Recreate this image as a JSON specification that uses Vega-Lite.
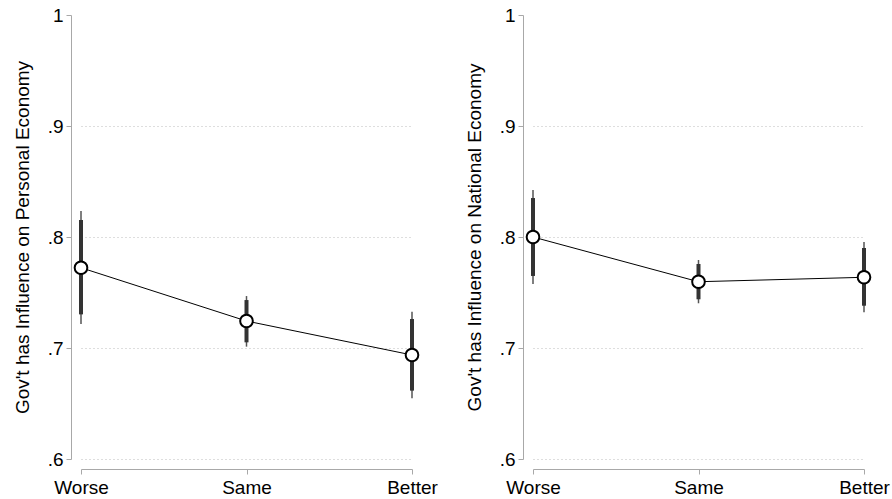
{
  "$schema": "https://vega.github.io/schema/vega-lite/v6.json",
  "padding": {"left": 13, "top": 6, "right": 5, "bottom": 2},
  "datasets": {
    "est": [
      {"panel": "personal", "cat": "Worse", "est": 0.7723, "lo90": 0.7303, "hi90": 0.8153, "lo95": 0.7216, "hi95": 0.8234},
      {"panel": "personal", "cat": "Same", "est": 0.7243, "lo90": 0.7051, "hi90": 0.7432, "lo95": 0.7012, "hi95": 0.7468},
      {"panel": "personal", "cat": "Better", "est": 0.6937, "lo90": 0.6616, "hi90": 0.7261, "lo95": 0.6547, "hi95": 0.7327},
      {"panel": "national", "cat": "Worse", "est": 0.8000, "lo90": 0.7649, "hi90": 0.8351, "lo95": 0.7577, "hi95": 0.8423},
      {"panel": "national", "cat": "Same", "est": 0.7597, "lo90": 0.7439, "hi90": 0.7757, "lo95": 0.7403, "hi95": 0.7793},
      {"panel": "national", "cat": "Better", "est": 0.7637, "lo90": 0.7381, "hi90": 0.7901, "lo95": 0.7321, "hi95": 0.7955}
    ]
  },
  "data": {"name": "est"},
  "bounds": "flush",
  "spacing": 121,
  "hconcat": [
    {
      "width": 331,
      "height": 444,
      "transform": [{"filter": "datum.panel == 'personal'"}],
      "encoding": {
        "x": {"field": "cat", "type": "ordinal", "sort": ["Worse", "Same", "Better"], "scale": {"type": "point", "padding": 0}, "axis": {"title": null, "labelAngle": 0, "offset": 10, "labelPadding": 4}}
      },
      "layer": [
        {"mark": {"type": "rule", "strokeWidth": 1.5, "color": "#555555"},
         "encoding": {"y": {"field": "lo95", "type": "quantitative", "scale": {"domain": [0.6, 1], "nice": false, "zero": false}, "axis": {"title": "Gov't has Influence on Personal Economy", "values": [0.6, 0.7, 0.8, 0.9, 1], "labelExpr": "datum.value >= 1 ? '1' : replace(format(datum.value, '.1f'), '0.', '.')", "offset": 10, "grid": true, "gridOpacity": {"condition": {"test": "datum.value >= 1", "value": 0}, "value": 1}, "titlePadding": 15}}, "y2": {"field": "hi95"}}},
        {"mark": {"type": "rule", "strokeWidth": 4, "color": "#333333"},
         "encoding": {"y": {"field": "lo90", "type": "quantitative", "axis": {"title": "Gov't has Influence on Personal Economy", "values": [0.6, 0.7, 0.8, 0.9, 1], "labelExpr": "datum.value >= 1 ? '1' : replace(format(datum.value, '.1f'), '0.', '.')", "offset": 10, "grid": true, "gridOpacity": {"condition": {"test": "datum.value >= 1", "value": 0}, "value": 1}, "titlePadding": 15}}, "y2": {"field": "hi90"}}},
        {"mark": {"type": "line", "color": "black", "strokeWidth": 1},
         "encoding": {"y": {"field": "est", "type": "quantitative", "axis": {"title": "Gov't has Influence on Personal Economy", "values": [0.6, 0.7, 0.8, 0.9, 1], "labelExpr": "datum.value >= 1 ? '1' : replace(format(datum.value, '.1f'), '0.', '.')", "offset": 10, "grid": true, "gridOpacity": {"condition": {"test": "datum.value >= 1", "value": 0}, "value": 1}, "titlePadding": 15}}}},
        {"mark": {"type": "point", "filled": true, "fill": "white", "stroke": "black", "strokeWidth": 2, "size": 160, "opacity": 1},
         "encoding": {"y": {"field": "est", "type": "quantitative", "axis": {"title": "Gov't has Influence on Personal Economy", "values": [0.6, 0.7, 0.8, 0.9, 1], "labelExpr": "datum.value >= 1 ? '1' : replace(format(datum.value, '.1f'), '0.', '.')", "offset": 10, "grid": true, "gridOpacity": {"condition": {"test": "datum.value >= 1", "value": 0}, "value": 1}, "titlePadding": 15}}}}
      ]
    },
    {
      "width": 331,
      "height": 444,
      "transform": [{"filter": "datum.panel == 'national'"}],
      "encoding": {
        "x": {"field": "cat", "type": "ordinal", "sort": ["Worse", "Same", "Better"], "scale": {"type": "point", "padding": 0}, "axis": {"title": null, "labelAngle": 0, "offset": 10, "labelPadding": 4}}
      },
      "layer": [
        {"mark": {"type": "rule", "strokeWidth": 1.5, "color": "#555555"},
         "encoding": {"y": {"field": "lo95", "type": "quantitative", "scale": {"domain": [0.6, 1], "nice": false, "zero": false}, "axis": {"title": "Gov't has Influence on National Economy", "values": [0.6, 0.7, 0.8, 0.9, 1], "labelExpr": "datum.value >= 1 ? '1' : replace(format(datum.value, '.1f'), '0.', '.')", "offset": 10, "grid": true, "gridOpacity": {"condition": {"test": "datum.value >= 1", "value": 0}, "value": 1}, "titlePadding": 15}}, "y2": {"field": "hi95"}}},
        {"mark": {"type": "rule", "strokeWidth": 4, "color": "#333333"},
         "encoding": {"y": {"field": "lo90", "type": "quantitative", "axis": {"title": "Gov't has Influence on National Economy", "values": [0.6, 0.7, 0.8, 0.9, 1], "labelExpr": "datum.value >= 1 ? '1' : replace(format(datum.value, '.1f'), '0.', '.')", "offset": 10, "grid": true, "gridOpacity": {"condition": {"test": "datum.value >= 1", "value": 0}, "value": 1}, "titlePadding": 15}}, "y2": {"field": "hi90"}}},
        {"mark": {"type": "line", "color": "black", "strokeWidth": 1},
         "encoding": {"y": {"field": "est", "type": "quantitative", "axis": {"title": "Gov't has Influence on National Economy", "values": [0.6, 0.7, 0.8, 0.9, 1], "labelExpr": "datum.value >= 1 ? '1' : replace(format(datum.value, '.1f'), '0.', '.')", "offset": 10, "grid": true, "gridOpacity": {"condition": {"test": "datum.value >= 1", "value": 0}, "value": 1}, "titlePadding": 15}}}},
        {"mark": {"type": "point", "filled": true, "fill": "white", "stroke": "black", "strokeWidth": 2, "size": 160, "opacity": 1},
         "encoding": {"y": {"field": "est", "type": "quantitative", "axis": {"title": "Gov't has Influence on National Economy", "values": [0.6, 0.7, 0.8, 0.9, 1], "labelExpr": "datum.value >= 1 ? '1' : replace(format(datum.value, '.1f'), '0.', '.')", "offset": 10, "grid": true, "gridOpacity": {"condition": {"test": "datum.value >= 1", "value": 0}, "value": 1}, "titlePadding": 15}}}}
      ]
    }
  ],
  "config": {
    "view": {"stroke": null},
    "font": "Liberation Sans",
    "axis": {
      "labelFont": "Liberation Sans",
      "titleFont": "Liberation Sans",
      "labelFontSize": 19,
      "titleFontSize": 19,
      "titleFontWeight": "normal",
      "labelColor": "black",
      "titleColor": "black",
      "domainColor": "#a8a8a8",
      "tickColor": "#a8a8a8",
      "tickSize": 5,
      "labelPadding": 3,
      "gridColor": "#bdbdbd",
      "gridDash": [1, 3]
    },
    "axisX": {"grid": false}
  }
}
